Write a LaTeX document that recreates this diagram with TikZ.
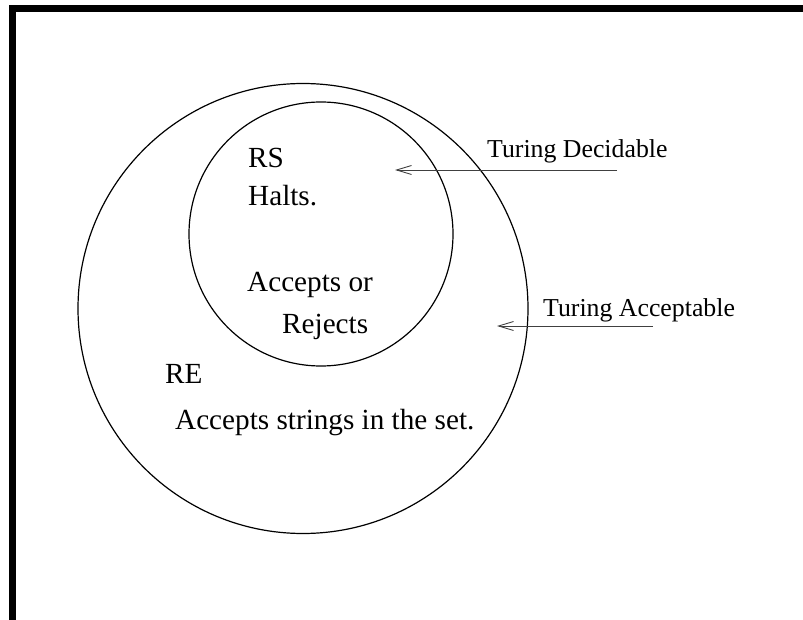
\documentclass[tikz,border=0pt]{standalone}
\usepackage{fontspec}
\setmainfont{Liberation Serif}
\usetikzlibrary{arrows.meta}
\begin{document}
\begin{tikzpicture}[x=1pt,y=-1pt,
  bigtxt/.style={anchor=base west,inner sep=0pt,font=\fontsize{29.2}{35}\selectfont},
  smalltxt/.style={anchor=base west,inner sep=0pt,font=\fontsize{25.8}{31}\selectfont},
  setline/.style={line width=1.2pt},
  pointer/.style={line width=0.9pt,draw=black!75,-{Straight Barb[length=15pt,width=9pt]}}]
\useasboundingbox (0,0) rectangle (803,620);
% frame
\fill[black] (9,5) rectangle (803,12);
\fill[black] (9,5) rectangle (16,620);
% circles
\draw[setline] (303,308.5) circle[radius=225];
\draw[setline] (321,234) circle[radius=132];
% texts
\node[bigtxt] (rs) at (248,168) {RS};
\node[bigtxt] (halts) at (248,206) {Halts.};
\node[bigtxt] (acc) at (247,291) {Accepts or};
\node[bigtxt] (rej) at (282,333) {Rejects};
\node[bigtxt] (re) at (165,383) {RE};
\node[bigtxt] (accstr) at (175,429) {Accepts strings in the set.};
\node[smalltxt] (td) at (487,158) {Turing Decidable};
\node[smalltxt] (ta) at (543,316.5) {Turing Acceptable};
% pointers
\coordinate (tdstart) at (617,170);
\coordinate (tdend) at (395,170);
\coordinate (tastart) at (653,326);
\coordinate (taend) at (497,326);
\draw[pointer] (tdstart) -- (tdend);
\draw[pointer] (tastart) -- (taend);
\end{tikzpicture}
\end{document}
